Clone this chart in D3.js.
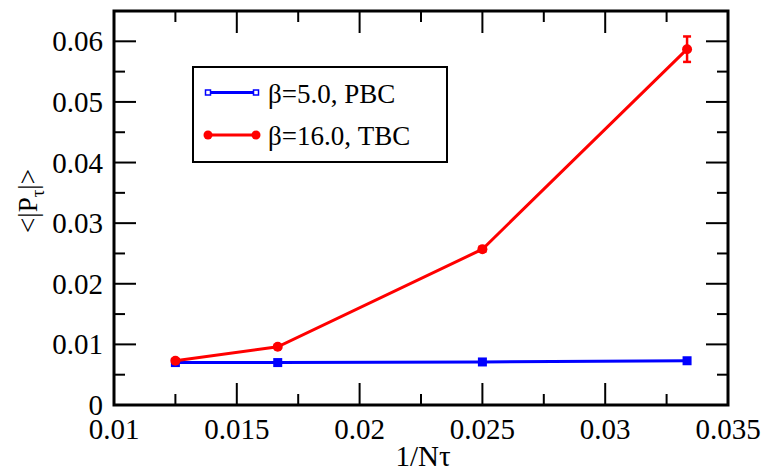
<!DOCTYPE html>
<html><head><meta charset="utf-8">
<script src="https://cdn.jsdelivr.net/npm/d3@7"></script>
<style>body{margin:0;background:#fff}svg{display:block}</style>
</head><body><svg id="c" width="766" height="473"></svg>
<script>
const xValues = [0.0125, 0.0166667, 0.025, 0.0333333];
const pbcValues = [0.0070, 0.0070, 0.0071, 0.0073];
const tbcValues = [0.0073, 0.0096, 0.0257, 0.0587];
const tbcErrors = [0.0002, 0.0002, 0.0004, 0.0021];
const xTicks = [0.01, 0.015, 0.02, 0.025, 0.03, 0.035];
const xTickLabels = ["0.01","0.015","0.02","0.025","0.03","0.035"];
const yTicks = [0, 0.01, 0.02, 0.03, 0.04, 0.05, 0.06];
const yTickLabels = ["0","0.01","0.02","0.03","0.04","0.05","0.06"];
const seriesNames = ["β=5.0, PBC", "β=16.0, TBC"];

const FONT = "Liberation Serif";
const svg = d3.select("#c");
const L=114, R=728, T=11, B=405;
const x = d3.scaleLinear().domain([0.01,0.035]).range([L,R]);
const y = d3.scaleLinear().domain([0,0.065]).range([B,T]);

const xMinor = d3.range(0.0125, 0.035, 0.005);
const yMinor = d3.range(0.005, 0.065, 0.01);
const g = svg.append("g");
const major=22, minor=11;
function tick(x1,y1,x2,y2){g.append("line").attr("x1",x1).attr("y1",y1).attr("x2",x2).attr("y2",y2).attr("stroke","#000").attr("stroke-width",2);}
xTicks.forEach(v=>{const px=x(v); tick(px,B,px,B-major); tick(px,T,px,T+major);});
xMinor.forEach(v=>{const px=x(v); tick(px,B,px,B-minor); tick(px,T,px,T+minor);});
yTicks.forEach(v=>{const py=y(v); tick(L,py,L+major,py); tick(R,py,R-major,py);});
yMinor.forEach(v=>{const py=y(v); tick(L,py,L+minor,py); tick(R,py,R-minor,py);});

g.append("rect").attr("x",L).attr("y",T).attr("width",R-L).attr("height",B-T).attr("fill","none").attr("stroke","#000").attr("stroke-width",3);

function txt(){return g.append("text").attr("font-family",FONT).attr("fill","#000");}
xTicks.forEach((v,i)=>{txt().attr("x",x(v)).attr("y",B+34).attr("text-anchor","middle").attr("font-size",29).text(xTickLabels[i]);});
yTicks.forEach((v,i)=>{txt().attr("x",L-11).attr("y",y(v)+10).attr("text-anchor","end").attr("font-size",29).text(yTickLabels[i]);});

txt().attr("x",423).attr("y",466).attr("text-anchor","middle").attr("font-size",29).text("1/Nτ");
const yl = txt().attr("transform","translate(37,201) rotate(-90)").attr("text-anchor","middle").attr("font-size",27);
yl.append("tspan").text("<|P");
yl.append("tspan").attr("font-size",19).attr("dy",7).text("τ");
yl.append("tspan").attr("dy",-7).text("|>");

const line = d3.line().x(d=>x(d[0])).y(d=>y(d[1]));
const pbc = xValues.map((v,i)=>[v,pbcValues[i]]);
const tbc = xValues.map((v,i)=>[v,tbcValues[i]]);

g.append("path").attr("d",line(pbc)).attr("fill","none").attr("stroke","#0000ff").attr("stroke-width",3);
pbc.forEach(d=>g.append("rect").attr("x",x(d[0])-4.5).attr("y",y(d[1])-4.5).attr("width",9).attr("height",9).attr("fill","#0000ff"));

g.append("path").attr("d",line(tbc)).attr("fill","none").attr("stroke","#ff0000").attr("stroke-width",3);
tbc.forEach((d,i)=>{
  const px=x(d[0]), e=tbcErrors[i];
  g.append("line").attr("x1",px).attr("x2",px).attr("y1",y(d[1]-e)).attr("y2",y(d[1]+e)).attr("stroke","#ff0000").attr("stroke-width",2.5);
  [d[1]-e,d[1]+e].forEach(v=>g.append("line").attr("x1",px-4).attr("x2",px+4).attr("y1",y(v)).attr("y2",y(v)).attr("stroke","#ff0000").attr("stroke-width",2.5));
  g.append("circle").attr("cx",px).attr("cy",y(d[1])).attr("r",5).attr("fill","#ff0000");
});

// legend
g.append("rect").attr("x",193).attr("y",67).attr("width",254).attr("height",95).attr("fill","#fff").attr("stroke","#000").attr("stroke-width",2);
const ly=[92.5,135];
g.append("line").attr("x1",208).attr("x2",256).attr("y1",ly[0]).attr("y2",ly[0]).attr("stroke","#0000ff").attr("stroke-width",3);
[208,256].forEach(px=>g.append("rect").attr("x",px-2.5).attr("y",ly[0]-2.5).attr("width",5).attr("height",5).attr("fill","#fff").attr("stroke","#0000ff").attr("stroke-width",1.5));
g.append("line").attr("x1",208).attr("x2",256).attr("y1",ly[1]).attr("y2",ly[1]).attr("stroke","#ff0000").attr("stroke-width",3);
[208,256].forEach(px=>g.append("circle").attr("cx",px).attr("cy",ly[1]).attr("r",4.5).attr("fill","#ff0000"));
seriesNames.forEach((s,i)=>txt().attr("x",268).attr("y",ly[i]+10).attr("font-size",27).text(s));
</script></body></html>
